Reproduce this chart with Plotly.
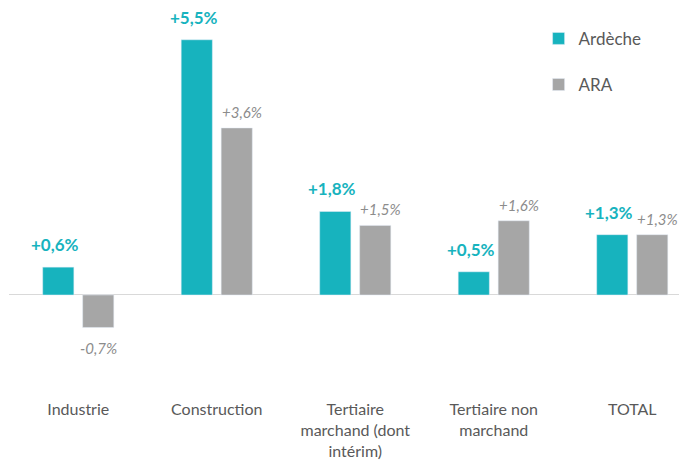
import plotly.graph_objects as go

categories = ["Industrie", "Construction", "Tertiaire<br>marchand (dont<br>intérim)", "Tertiaire non<br>marchand", "TOTAL"]
ardeche = [0.6, 5.5, 1.8, 0.5, 1.3]
ara = [-0.7, 3.6, 1.5, 1.6, 1.3]

TEAL = "#17B3BE"
GRAY = "#A6A6A6"
FONT = "Lato, 'Open Sans', sans-serif"

def fmt(v):
    return ("+" if v >= 0 else "-") + f"{abs(v):.1f}".replace(".", ",") + "%"

xs = list(range(len(categories)))

fig = go.Figure()
fig.add_trace(go.Bar(x=xs, y=ardeche, name="Ardèche", marker_color=TEAL,
                     legendgroup="a", hoverinfo="skip"))
fig.add_trace(go.Bar(x=xs, y=ara, name="ARA", marker_color=GRAY,
                     legendgroup="b", hoverinfo="skip"))

annotations = []
for i, v in enumerate(ardeche):
    annotations.append(dict(x=i - 0.144, y=v, xref="x", yref="y", text="<b>" + fmt(v) + "</b>",
                            showarrow=False, yanchor="bottom" if v >= 0 else "top",
                            yshift=10 if v >= 0 else -8, xshift=-3,
                            font=dict(family=FONT, size=17, color=TEAL)))
for i, v in enumerate(ara):
    annotations.append(dict(x=i + 0.144, y=v, xref="x", yref="y", text="<i>" + fmt(v) + "</i>",
                            showarrow=False, yanchor="bottom" if v >= 0 else "top",
                            yshift=5 if v >= 0 else -10, xshift=5 if v >= 0 else 0,
                            font=dict(family=FONT, size=15, color="#8C8C8C")))

fig.update_layout(
    width=687, height=462,
    margin=dict(l=1, r=0, t=0, b=72),
    paper_bgcolor="white", plot_bgcolor="white",
    barmode="group", bargap=0.423, bargroupgap=0.22,
    font=dict(family=FONT, color="#595959"),
    showlegend=True,
    legend=dict(x=0.772, y=0.967, xanchor="left", yanchor="top",
                font=dict(family=FONT, size=17, color="#595959"),
                traceorder="grouped", tracegroupgap=21, bgcolor="rgba(0,0,0,0)"),
    annotations=annotations,
)
fig.update_xaxes(tickmode="array", tickvals=xs, ticktext=categories,
                 range=[-0.5, 4.453], showline=False, showgrid=False, ticks="",
                 tickfont=dict(family=FONT, size=16, color="#595959"), fixedrange=True)
fig.update_yaxes(range=[-2.22, 6.185], showgrid=False, showticklabels=False,
                 zeroline=True, zerolinecolor="#D9D9D9", zerolinewidth=1, fixedrange=True)

fig.write_html("out.html")
